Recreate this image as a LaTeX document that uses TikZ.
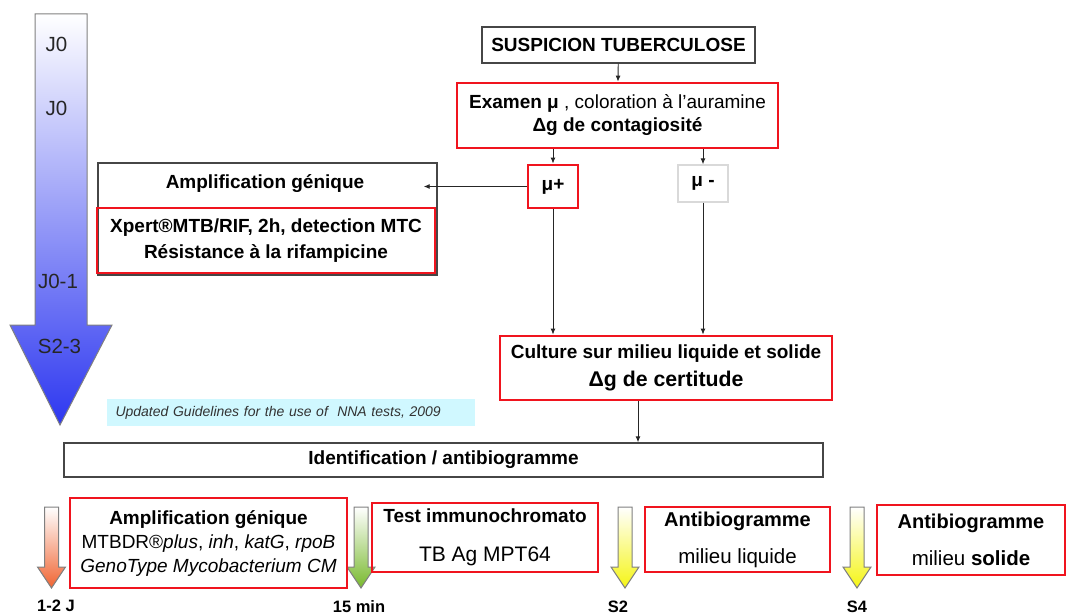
\documentclass[tikz,border=0pt]{standalone}
\usepackage{fontspec}
\setmainfont{Liberation Sans}
\usetikzlibrary{arrows.meta, calc}
\definecolor{notecyan}{RGB}{208,248,255}
\definecolor{boxred}{RGB}{240,20,30}
\definecolor{boxgrey}{RGB}{70,70,70}
\definecolor{blueend}{RGB}{45,55,240}
\definecolor{bluemid}{RGB}{178,178,252}
\definecolor{arrorange}{RGB}{240,100,50}
\definecolor{arrgreen}{RGB}{120,185,45}
\definecolor{arryellow}{RGB}{245,245,20}
\tikzset{every node/.style = {font=\fontsize{19}{23}\selectfont, inner sep=0pt}}
\tikzset{redbox/.style = {draw=boxred, line width=2.8pt, align=center}}
\tikzset{greybox/.style = {draw=boxgrey, line width=1.4pt, align=center}}
\tikzset{conn/.style = {draw=black!85, line width=0.9pt, -{Latex[length=6pt,width=5pt]}}}
\tikzset{daylabel/.style = {font=\fontsize{20.5}{24}\selectfont, text=black!85}}
\tikzset{timelabel/.style = {font=\bfseries\fontsize{16.5}{20}\selectfont}}
\newcommand{\timearrow}[2]{%
  \shadedraw[draw=gray, line width=1pt, top color=white, bottom color=#2]
    (#1-7,507) -- (#1+7,507) -- (#1+7,567) -- (#1+14,567) -- (#1,588) -- (#1-14,567) -- (#1-7,567) -- cycle;}

\begin{document}
\begin{tikzpicture}[x=1pt, y=-1pt]
\useasboundingbox (0,0) rectangle (1068,615);
\shadedraw[draw=gray, line width=1pt, top color=white, middle color=bluemid, bottom color=blueend]
  (35,14) -- (87,14) -- (87,325) -- (112,325) -- (60,425) -- (10,325) -- (35,325) -- cycle;
\node[daylabel] (j0a) at (56.5,44) {J0};
\node[daylabel] (j0b) at (56.5,108) {J0};
\node[daylabel] (j01) at (58,281) {J0-1};
\node[daylabel] (s23) at (59.5,346) {S2-3};
\node[greybox, minimum width=273pt, minimum height=36pt] (susp) at (618.5,45) {\textbf{SUSPICION TUBERCULOSE}};
\node[redbox, minimum width=321pt, minimum height=65pt] (examen) at (617.5,115.5) {\textbf{Examen μ} , coloration à l'auramine\\ \textbf{Δg de contagiosité}};
\node[redbox, minimum width=50pt, minimum height=43pt] (mup) at (553,186.5) {\textbf{μ+}};
\node[draw=black!15, line width=1.4pt, minimum width=50pt, minimum height=37pt] (mum) at (703,183.5) {\textbf{μ -}};
\node[greybox, minimum width=339pt, minimum height=112pt] (ampbox) at (267.5,219) {};
\node (amptitle) at (265,184) {\textbf{Amplification génique}};
\node[redbox, minimum width=338pt, minimum height=65pt] (xpert) at (266,240.5) {\textbf{Xpert®MTB/RIF, 2h, detection MTC}\\[3pt] \textbf{Résistance à la rifampicine}};
\coordinate (ampin) at ($(mup.west -| ampbox.east)+(-14,0)$);
\node[redbox, minimum width=332pt, minimum height=64pt] (culture) at (666,368) {\textbf{Culture sur milieu liquide et solide}\\[5pt] {\bfseries\fontsize{21.3}{26}\selectfont Δg de certitude}};
\coordinate (cultout) at ([xshift=-28pt]culture.south);
\node[fill=notecyan, minimum height=27pt, text width=350pt, inner xsep=9pt, align=left, font=\itshape\fontsize{14}{17}\selectfont, text=black!80] (note) at (290.5,412.5) {Updated Guidelines for the use of \ NNA tests, 2009};
\node[greybox, minimum width=759pt, minimum height=34pt] (ident) at (443.5,460) {\textbf{Identification / antibiogramme}};
\draw[conn] (susp) -- (examen);
\draw[conn] (examen.south -| mup.north) -- (mup.north);
\draw[conn] (examen.south -| mum.north) -- (mum.north);
\draw[conn] (mup.west) -- (ampin);
\draw[conn] (mup.south) -- (mup.south |- culture.north);
\draw[conn] (mum.south) -- (mum.south |- culture.north);
\draw[conn] (cultout) -- (cultout |- ident.north);
\timearrow{51.5}{arrorange}
\timearrow{361}{arrgreen}
\timearrow{625}{arryellow}
\timearrow{857}{arryellow}
\node[timelabel] (t12) at (56,606) {1-2 J};
\node[timelabel] (t15) at (359,607) {15 min};
\node[timelabel] (ts2) at (618,607) {S2};
\node[timelabel] (ts4) at (857,607) {S4};
\node[redbox, minimum width=277pt, minimum height=90pt, font=\fontsize{19}{24}\selectfont] (bamp) at (208.5,543) {\textbf{Amplification génique}\\ MTBDR®\textit{plus}, \textit{inh}, \textit{katG}, \textit{rpoB}\\ \textit{GenoType Mycobacterium CM}};
\node[redbox, minimum width=226pt, minimum height=69pt] (btest) at (485,537.5) {\textbf{Test immunochromato}\\[16pt] {\fontsize{21}{25}\selectfont TB Ag MPT64}};
\node[redbox, minimum width=185pt, minimum height=65pt, font=\fontsize{20}{23}\selectfont] (bliq) at (737.5,539.5) {\textbf{Antibiogramme}\\[14pt] {\fontsize{20.5}{24}\selectfont milieu liquide}};
\node[redbox, minimum width=188pt, minimum height=70pt, font=\fontsize{20}{23}\selectfont] (bsol) at (971,540) {\textbf{Antibiogramme}\\[14pt] {\fontsize{20.5}{24}\selectfont milieu \textbf{solide}}};
\end{tikzpicture}
\end{document}
